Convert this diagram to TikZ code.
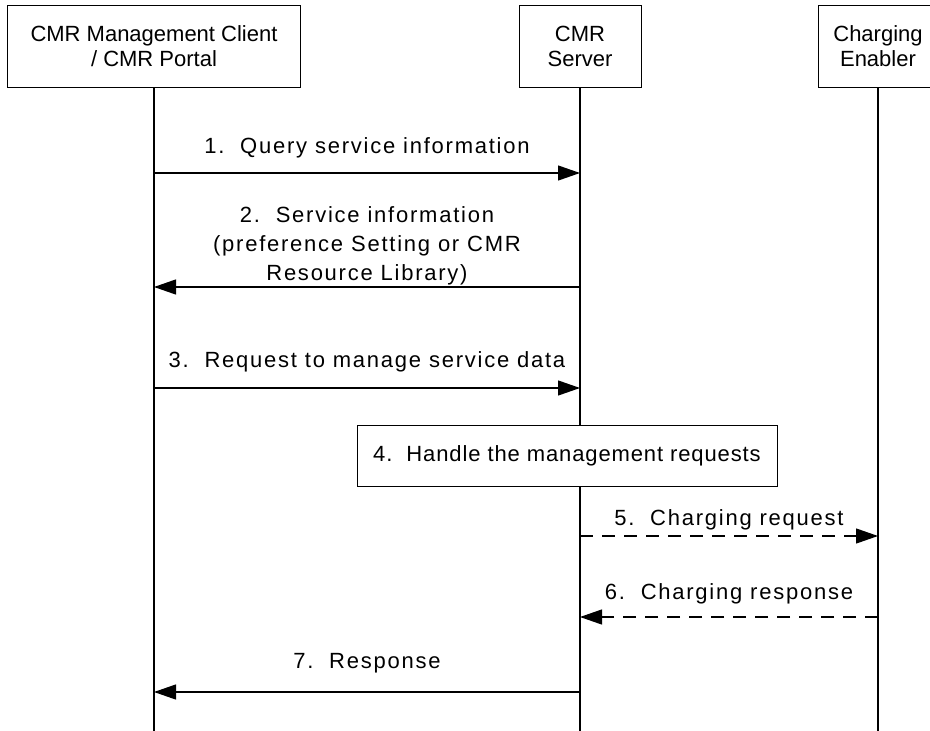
\documentclass[tikz,border=0pt]{standalone}
\usepackage{fontspec}
\setmainfont{Liberation Sans}
\newfontfamily\lblfont[LetterSpace=8]{Liberation Sans}
\newfontfamily\hdlfont[LetterSpace=4]{Liberation Sans}
\usetikzlibrary{arrows.meta,calc}

\begin{document}
\begin{tikzpicture}[x=1pt,y=1pt,
        box/.style={draw,line width=.9pt,fill=white,align=center,inner sep=0pt,
            font=\fontsize{22}{25}\selectfont},
        life/.style={line width=1.2pt},
        msg/.style={line width=1.2pt,-{Triangle[length=22pt,width=15pt]}},
        dmsg/.style={msg,dash pattern=on 13pt off 9pt},
        lbl/.style={inner sep=0pt,align=center,font=\lblfont\fontsize{22}{29}\selectfont}]
        \useasboundingbox (0,0) rectangle (930,-731);
        % entities
        \node[box,minimum width=293pt,minimum height=82pt] (cmc) at (154,-46)
            {CMR Management Client\\/ CMR Portal};
        \node[box,minimum width=122pt,minimum height=82pt] (srv) at (580,-46)
            {CMR\\Server};
        \node[box,minimum width=120pt,minimum height=82pt] (chg) at (878,-46)
            {Charging\\Enabler};
        % lifelines
        \coordinate (cmcend) at (cmc.south |- 0,-731);
        \coordinate (srvend) at (srv.south |- 0,-731);
        \coordinate (chgend) at (chg.south |- 0,-731);
        \draw[life] (cmc.south) -- (cmcend);
        \draw[life] (srv.south) -- (srvend);
        \draw[life] (chg.south) -- (chgend);
        % points on the lifelines
        \foreach \n/\y in {1/173,2/287,3/388,7/692}{
            \coordinate (c\n) at (cmc.south |- 0,-\y);
            \coordinate (s\n) at (srv.south |- 0,-\y);
        }
        \foreach \n/\y in {5/536,6/617}{
            \coordinate (s\n) at (srv.south |- 0,-\y);
            \coordinate (e\n) at (chg.south |- 0,-\y);
        }
        % messages
        \draw[msg] (c1) -- (s1) node[lbl,midway,anchor=base,yshift=20pt]
            {1.~~Query service information};
        \draw[msg] (s2) -- (c2) node[lbl,midway,anchor=south,yshift=1pt]
            {2.~~Service information\\(preference Setting or CMR\\Resource Library)};
        \draw[msg] (c3) -- (s3) node[lbl,midway,anchor=base,yshift=21pt]
            {3.~~Request to manage service data};
        \node[box,minimum width=420pt,minimum height=61pt] (hdl) at (567,-455.5)
            {\hdlfont 4.~~Handle the management requests};
        \draw[dmsg] (s5) -- (e5) node[lbl,midway,anchor=base,yshift=11pt]
            {5.~~Charging request};
        \draw[dmsg] (e6) -- (s6) node[lbl,midway,anchor=base,yshift=18pt]
            {6.~~Charging response};
        \draw[msg] (s7) -- (c7) node[lbl,midway,anchor=base,yshift=24pt]
            {7.~~Response};
\end{tikzpicture}
\end{document}
